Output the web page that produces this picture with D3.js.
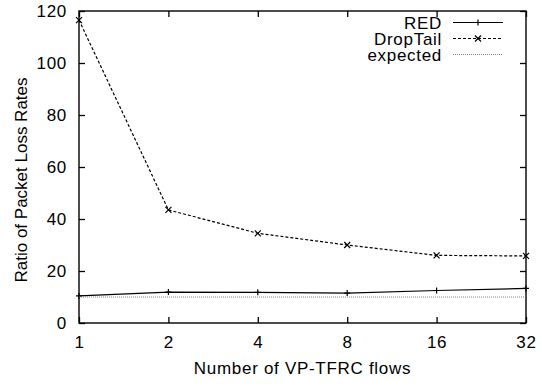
<!DOCTYPE html>
<html>
<head>
<meta charset="utf-8">
<script src="https://cdn.jsdelivr.net/npm/d3@7"></script>
<style>
body { margin: 0; background: #fff; }
text { font-family: "Liberation Sans", Arial, sans-serif; font-size: 17px; fill: #000; letter-spacing: 0.7px; }
</style>
</head>
<body>
<svg width="542" height="386"></svg>
<script>
// data
var flows = [1, 2, 4, 8, 16, 32];
var redLoss = [10.4, 11.9, 11.8, 11.5, 12.5, 13.3];
var dropTailLoss = [116.5, 43.5, 34.5, 30, 26, 25.8];
var expectedLoss = [10, 10, 10, 10, 10, 10];
var yTicks = [0, 20, 40, 60, 80, 100, 120];
var seriesNames = ["RED", "DropTail", "expected"];

var svg = d3.select("svg"),
    margin = {top: 11, right: 16, bottom: 63, left: 79},
    width = svg.attr("width") - margin.left - margin.right,
    height = svg.attr("height") - margin.top - margin.bottom,
    g = svg.append("g").attr("transform", "translate(" + margin.left + "," + margin.top + ")");

var x = d3.scaleLog().base(2).domain([1, 32]).range([0, width]),
    y = d3.scaleLinear().domain([0, 120]).range([height, 0]);

var series = [
    {id: seriesNames[0], values: redLoss, dash: null, mark: "plus", color: "#000", w: 1.2},
    {id: seriesNames[1], values: dropTailLoss, dash: "3,2", mark: "cross", color: "#000", w: 1.2},
    {id: seriesNames[2], values: expectedLoss, dash: "1,1", mark: null, color: "#666", w: 0.8}
];

var line = d3.line()
    .x(function(d) { return x(d.f); })
    .y(function(d) { return y(d.v); });

// axes with inward ticks, mirrored on top and right
g.append("g")
    .attr("class", "axis y")
    .call(d3.axisLeft(y).tickValues(yTicks).tickSizeInner(-6).tickSizeOuter(0).tickPadding(12))
    .call(function(a) { a.select(".domain").remove(); });

g.append("g")
    .attr("transform", "translate(" + width + ",0)")
    .call(d3.axisRight(y).tickValues(yTicks).tickSizeInner(-6).tickSizeOuter(0).tickFormat(""))
    .call(function(a) { a.select(".domain").remove(); });

g.append("g")
    .attr("class", "axis x")
    .attr("transform", "translate(0," + height + ")")
    .call(d3.axisBottom(x).tickValues(flows).tickFormat(d3.format("d")).tickSizeInner(-6).tickSizeOuter(0).tickPadding(13))
    .call(function(a) { a.select(".domain").remove(); });

g.append("g")
    .call(d3.axisTop(x).tickValues(flows).tickSizeInner(-6).tickSizeOuter(0).tickFormat(""))
    .call(function(a) { a.select(".domain").remove(); });

g.selectAll(".tick line").attr("stroke", "#000").attr("stroke-width", 1.3);
g.selectAll(".tick text").style("font-size", "17px").attr("fill", "#000");

g.append("rect")
    .attr("width", width)
    .attr("height", height)
    .attr("fill", "none")
    .attr("stroke", "#000")
    .attr("stroke-width", 1.4);

svg.append("text")
    .attr("x", margin.left + width / 2)
    .attr("y", 374)
    .attr("text-anchor", "middle")
    .text("Number of VP-TFRC flows");

svg.append("text")
    .attr("transform", "rotate(-90)")
    .attr("x", -180)
    .attr("y", 27)
    .attr("text-anchor", "middle")
    .style("letter-spacing", "0px")
    .text("Ratio of Packet Loss Rates");

function drawMark(sel, type, cx, cy) {
    var s = 3;
    var p = type == "plus"
        ? "M" + (cx - s) + "," + cy + "H" + (cx + s) + "M" + cx + "," + (cy - s) + "V" + (cy + s)
        : "M" + (cx - s) + "," + (cy - s) + "L" + (cx + s) + "," + (cy + s) + "M" + (cx - s) + "," + (cy + s) + "L" + (cx + s) + "," + (cy - s);
    sel.append("path").attr("d", p).attr("stroke", "#000").attr("stroke-width", 1.2).attr("fill", "none");
}

series.forEach(function(s) {
    var pts = flows.map(function(f, i) { return {f: f, v: s.values[i]}; });
    g.append("path")
        .attr("d", line(pts))
        .attr("fill", "none")
        .attr("stroke", s.color)
        .attr("stroke-width", s.w)
        .attr("stroke-dasharray", s.dash);
    if (s.mark) pts.forEach(function(p) { drawMark(g, s.mark, x(p.f), y(p.v)); });
});

// legend
var legend = svg.append("g");
series.forEach(function(s, i) {
    var cy = 22.5 + i * 16;
    legend.append("text")
        .attr("x", 442)
        .attr("y", cy + 6)
        .attr("text-anchor", "end")
        .text(s.id);
    legend.append("line")
        .attr("x1", 453).attr("x2", 503)
        .attr("y1", cy).attr("y2", cy)
        .attr("stroke", s.color)
        .attr("stroke-width", s.w)
        .attr("stroke-dasharray", s.dash);
    if (s.mark) drawMark(legend, s.mark, 478, cy);
});
</script>
</body>
</html>
